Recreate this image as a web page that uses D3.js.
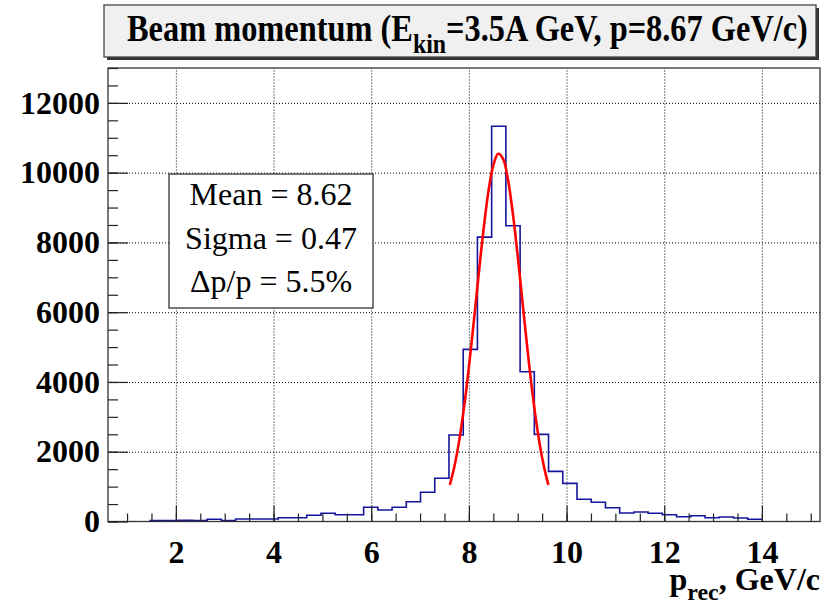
<!DOCTYPE html>
<html>
<head>
<meta charset="utf-8">
<title>Beam momentum</title>
<script src="https://d3js.org/d3.v7.min.js"></script>
<style>
    body{
        margin: 0;
        background: #fff;
    }
    svg{
        display: block;
        background: #fff;
    }
    .tick text{
        font-family: "Liberation Serif", "DejaVu Serif", serif;
        font-weight: bold;
        font-size: 32px;
        fill: #000;
    }
    .grid line{
        stroke: #000;
        stroke-width: 1;
        stroke-dasharray: 1,2;
    }
</style>
</head>
<body>
<svg id="chart" width="833" height="604"></svg>
<script>
    // Histogram: 43 bins starting at 1.475 GeV/c, bin width ~0.2913
    var binStart = 1.475;
    var binWidth = 0.2913;
    var counts = [25, 30, 35, 30, 63, 30, 72, 72, 72, 109,
                  109, 178, 235, 195, 195, 407, 330, 407, 568, 837,
                  1238, 2478, 4934, 8152, 11332, 8476, 4293, 2498, 1437, 1094,
                  636, 550, 395, 244, 272, 235, 195, 138, 166, 109,
                  129, 100, 63];

    // Gaussian fit curve
    var fitX = [7.61, 7.70, 7.80, 7.90, 8.00, 8.10, 8.20, 8.30, 8.40, 8.50, 8.60,
                8.70, 8.80, 8.90, 9.00, 9.10, 9.20, 9.30, 9.40, 9.50, 9.60, 9.63];
    var fitY = [1049, 1553, 2303, 3263, 4420, 5721, 7078, 8367, 9455, 10212, 10540,
                10398, 9804, 8834, 7609, 6262, 4927, 3704, 2662, 1828, 1200, 1049];

    // Axis ticks
    var xMajor = [2, 4, 6, 8, 10, 12, 14];
    var xMinor = d3.range(1, 15.01, 0.5);
    var yMajor = [0, 2000, 4000, 6000, 8000, 10000, 12000];
    var yMinor = d3.range(0, 13001, 500);

    var statLines = ["Mean = 8.62", "Sigma = 0.47", "\u0394p/p = 5.5%"];

    var svg = d3.select("#chart");

    var frameL = 108, frameR = 820, frameT = 68, frameB = 521.5;

    var x = d3.scaleLinear().domain([0.61, 15.19]).range([frameL, frameR]);
    var y = d3.scaleLinear().domain([0, 13000]).range([frameB, frameT]);

    // grid
    svg.append("g")
        .attr("class", "grid")
        .attr("transform", "translate(0," + frameB + ")")
        .call(d3.axisBottom(x).tickValues(xMajor).tickSizeInner(-(frameB - frameT)).tickSizeOuter(0).tickFormat(""))
        .call(g => g.select(".domain").remove());
    svg.append("g")
        .attr("class", "grid")
        .attr("transform", "translate(" + frameL + ",0)")
        .call(d3.axisLeft(y).tickValues(yMajor.slice(1)).tickSizeInner(-(frameR - frameL)).tickSizeOuter(0).tickFormat(""))
        .call(g => g.select(".domain").remove());

    // histogram outline
    var pts = [[binStart, 0]];
    counts.forEach(function(c, i){
        pts.push([binStart + i * binWidth, c]);
        pts.push([binStart + (i + 1) * binWidth, c]);
    });
    svg.append("path")
        .datum(pts)
        .attr("fill", "none")
        .attr("stroke", "#16169c")
        .attr("stroke-width", 1.6)
        .attr("d", d3.line().x(d => x(d[0])).y(d => y(d[1])));

    // fit
    svg.append("path")
        .datum(d3.zip(fitX, fitY))
        .attr("fill", "none")
        .attr("stroke", "#ff0000")
        .attr("stroke-width", 2.6)
        .attr("d", d3.line().x(d => x(d[0])).y(d => y(d[1])).curve(d3.curveCatmullRom));

    // frame
    svg.append("rect")
        .attr("x", frameL).attr("y", frameT)
        .attr("width", frameR - frameL).attr("height", frameB - frameT)
        .attr("fill", "none")
        .attr("stroke", "#333")
        .attr("stroke-width", 1.3);

    // x axis ticks + labels
    svg.append("g")
        .attr("transform", "translate(0," + frameB + ")")
        .call(d3.axisBottom(x).tickValues(xMinor).tickSizeInner(-8).tickSizeOuter(0).tickFormat(""))
        .call(g => g.select(".domain").remove())
        .selectAll("line").attr("stroke", "#222").attr("stroke-width", 1.2);
    svg.append("g")
        .attr("transform", "translate(0," + frameB + ")")
        .call(d3.axisBottom(x).tickValues(xMajor).tickSizeInner(-16).tickSizeOuter(0).tickPadding(19).tickFormat(d3.format("d")))
        .call(g => g.select(".domain").remove())
        .selectAll("line").attr("stroke", "#222").attr("stroke-width", 1.2);

    // y axis ticks + labels
    svg.append("g")
        .attr("transform", "translate(" + frameL + ",0)")
        .call(d3.axisLeft(y).tickValues(yMinor).tickSizeInner(-10).tickSizeOuter(0).tickFormat(""))
        .call(g => g.select(".domain").remove())
        .selectAll("line").attr("stroke", "#222").attr("stroke-width", 1.2);
    svg.append("g")
        .attr("transform", "translate(" + frameL + ",0)")
        .call(d3.axisLeft(y).tickValues(yMajor).tickSizeInner(-20).tickSizeOuter(0).tickPadding(8).tickFormat(d3.format("d")))
        .call(g => g.select(".domain").remove())
        .selectAll("line").attr("stroke", "#222").attr("stroke-width", 1.2);

    // x axis title
    var xt = svg.append("text")
        .attr("x", 820).attr("y", 590)
        .attr("text-anchor", "end")
        .style("font-family", "'Liberation Serif', serif")
        .style("font-weight", "bold")
        .style("font-size", "32px");
    xt.append("tspan").text("p");
    xt.append("tspan").attr("dy", 10).style("font-size", "24px").text("rec");
    xt.append("tspan").attr("dy", -10).text(", GeV/c");

    // stats box
    svg.append("rect")
        .attr("x", 169).attr("y", 174)
        .attr("width", 204).attr("height", 134)
        .attr("fill", "#fff")
        .attr("stroke", "#333")
        .attr("stroke-width", 1.3);
    svg.selectAll(".stat")
        .data(statLines)
        .enter()
        .append("text")
        .attr("class", "stat")
        .attr("x", 271)
        .attr("y", (d, i) => 205 + i * 43.5)
        .attr("text-anchor", "middle")
        .style("font-family", "'Liberation Serif', serif")
        .style("font-size", "32px")
        .text(d => d);

    // title box with shadow
    svg.append("rect")
        .attr("x", 107).attr("y", 8)
        .attr("width", 712).attr("height", 52)
        .attr("fill", "#333");
    svg.append("rect")
        .attr("x", 104).attr("y", 5)
        .attr("width", 712).attr("height", 52)
        .attr("fill", "#f0f0f0")
        .attr("stroke", "#444")
        .attr("stroke-width", 1.3);
    var tg = svg.append("g");
    var tt = tg.append("text")
        .attr("x", 127).attr("y", 41)
        .style("font-family", "'Liberation Serif', serif")
        .style("font-weight", "bold")
        .style("font-size", "38px");
    tt.append("tspan").text("Beam momentum (E");
    tt.append("tspan").attr("dy", 12).style("font-size", "28px").text("kin");
    tt.append("tspan").attr("dy", -12).text("=3.5A GeV, p=8.67 GeV/c)");
    var w = tt.node().getComputedTextLength();
    var sx = 681 / w;
    tg.attr("transform", "translate(127,0) scale(" + sx + ",1) translate(-127,0)");
</script>
</body>
</html>
